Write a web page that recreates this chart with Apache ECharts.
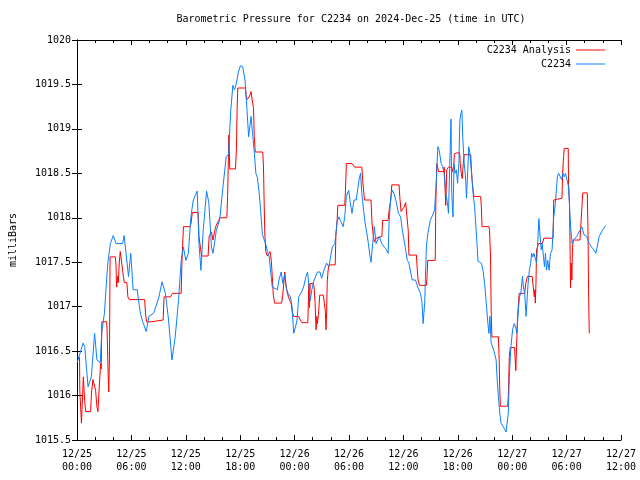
<!DOCTYPE html>
<html>
<head>
<meta charset="utf-8">
<script src="https://cdn.jsdelivr.net/npm/echarts@6/dist/echarts.min.js"></script>
<style>html,body{margin:0;padding:0;background:#fff}#c{width:640px;height:480px}</style>
</head>
<body>
<div id="c"></div>
<script>
// hours since 2024-12-25 00:00 UTC
const obsHours = [0.02,0.67,0.85,1.22,1.58,1.94,2.20,2.56,2.74,3.03,3.21,3.40,3.68,4.00,4.30,5.03,5.20,5.39,5.68,5.93,6.19,6.66,6.73,7.02,7.28,7.64,7.93,8.47,9.02,9.38,9.75,10.10,10.47,10.83,11.20,11.49,11.74,12.00,12.28,12.58,12.83,13.26,13.45,13.67,13.92,14.29,14.54,14.83,15.00,15.37,15.74,16.10,16.46,16.72,16.94,17.19,17.37,17.55,17.80,18.02,18.27,18.53,18.75,18.93,19.19,19.36,19.55,19.73,19.90,20.10,20.25,20.45,20.80,21.00,21.20,21.37,21.54,21.72,22.10,22.27,22.52,22.70,22.89,23.10,23.28,23.54,23.72,23.90,24.09,24.27,24.45,24.70,24.99,25.25,25.43,25.60,25.72,25.90,26.15,26.52,26.80,26.98,27.24,27.53,27.79,27.97,28.15,28.44,28.70,28.88,29.10,29.35,29.53,29.71,29.97,30.14,30.33,30.55,30.80,31.09,31.27,31.42,31.60,31.78,31.96,32.14,32.32,32.43,32.61,32.80,32.98,33.16,33.34,33.60,33.89,34.14,34.32,34.43,34.61,34.79,34.98,35.23,35.45,35.70,35.88,36.07,36.25,36.43,36.61,36.97,37.33,37.59,37.88,38.06,38.17,38.35,38.53,38.71,38.96,39.22,39.44,39.62,39.80,39.95,40.16,40.32,40.49,40.67,40.86,40.97,41.10,41.25,41.33,41.47,41.58,41.69,41.84,41.98,42.12,42.23,42.34,42.45,42.56,42.71,42.85,42.96,43.10,43.21,43.32,43.43,43.58,43.72,43.86,44.02,44.16,44.23,44.60,44.78,44.96,45.14,45.32,45.43,45.54,45.68,45.83,45.97,46.12,46.23,46.34,46.48,46.63,46.77,46.99,47.13,47.32,47.46,47.57,47.68,47.86,48.04,48.22,48.40,48.51,48.66,48.80,48.95,49.13,49.24,49.38,49.53,49.68,49.75,49.90,50.04,50.15,50.26,50.40,50.55,50.69,50.83,50.94,51.05,51.20,51.31,51.45,51.56,51.67,51.78,51.92,52.07,52.22,52.40,52.58,52.76,52.87,52.98,53.12,53.30,53.45,53.60,53.74,53.88,54.03,54.21,54.36,54.47,54.61,54.75,54.94,55.12,55.30,55.48,55.67,55.78,55.92,56.06,56.21,56.39,56.50,56.76,57.01,57.23,57.37,57.59,57.84,58.10,58.28];
const obsValues = [1016.37,1016.59,1016.55,1016.10,1016.21,1016.70,1016.40,1016.37,1016.72,1016.93,1017.22,1017.49,1017.71,1017.80,1017.71,1017.71,1017.80,1017.62,1017.34,1017.60,1017.19,1017.19,1017.11,1016.91,1016.82,1016.72,1016.89,1016.93,1017.10,1017.28,1017.15,1016.85,1016.40,1016.66,1017.07,1017.52,1017.67,1017.52,1017.60,1018.03,1018.20,1018.30,1017.71,1017.41,1017.86,1018.30,1018.17,1017.67,1017.60,1017.86,1017.98,1018.35,1018.69,1018.71,1019.18,1019.49,1019.44,1019.50,1019.64,1019.71,1019.70,1019.55,1019.21,1018.91,1019.14,1018.95,1018.74,1018.50,1018.45,1018.27,1018.09,1017.81,1017.71,1017.62,1017.56,1017.38,1017.22,1017.20,1017.19,1017.30,1017.39,1017.26,1017.36,1017.20,1017.15,1017.11,1017.00,1016.70,1016.77,1016.85,1017.11,1017.15,1017.22,1017.34,1017.39,1017.22,1017.07,1017.19,1017.30,1017.39,1017.39,1017.32,1017.41,1017.49,1017.45,1017.56,1017.67,1017.71,1017.96,1018.01,1017.96,1017.90,1018.01,1018.24,1018.31,1018.17,1018.05,1018.20,1018.20,1018.42,1018.50,1018.27,1018.09,1017.94,1017.83,1017.71,1017.56,1017.50,1017.71,1017.90,1017.71,1017.71,1017.79,1017.71,1017.67,1017.64,1017.60,1017.97,1018.24,1018.31,1018.27,1018.17,1018.05,1018.01,1017.86,1017.75,1017.64,1017.52,1017.49,1017.30,1017.30,1017.22,1017.15,1017.04,1016.81,1017.04,1017.67,1017.83,1017.97,1018.03,1018.09,1018.39,1018.80,1018.76,1018.61,1018.58,1018.50,1018.27,1018.17,1018.05,1018.54,1019.11,1018.27,1018.01,1018.61,1018.50,1018.54,1018.39,1018.61,1019.10,1019.17,1019.21,1018.87,1018.61,1018.46,1018.22,1018.54,1018.80,1018.73,1018.61,1018.42,1018.24,1018.12,1017.86,1017.64,1017.51,1017.49,1017.41,1017.26,1017.04,1016.81,1016.70,1016.89,1016.59,1016.60,1016.51,1016.51,1016.40,1016.18,1015.99,1015.80,1015.69,1015.69,1015.63,1015.59,1015.59,1015.80,1016.21,1016.55,1016.74,1016.81,1016.76,1016.70,1016.93,1017.11,1017.15,1017.34,1017.22,1017.15,1016.89,1016.89,1017.26,1017.41,1017.49,1017.60,1017.56,1017.60,1017.60,1017.49,1017.75,1017.99,1017.83,1017.64,1017.71,1017.56,1017.45,1017.60,1017.41,1017.52,1017.41,1017.60,1017.64,1018.01,1018.16,1018.31,1018.46,1018.50,1018.50,1018.43,1018.50,1018.46,1018.50,1018.50,1018.35,1018.05,1017.86,1017.71,1017.75,1017.77,1017.79,1017.79,1017.86,1017.90,1017.86,1017.81,1017.79,1017.79,1017.77,1017.71,1017.67,1017.64,1017.60,1017.67,1017.79,1017.84,1017.88,1017.91];

const anaHours = [0.00,0.28,0.31,0.40,0.49,0.55,0.70,0.85,0.96,1.50,1.60,1.76,1.97,2.05,2.20,2.31,2.49,2.60,2.67,2.74,3.28,3.35,3.43,3.50,3.58,3.65,4.23,4.30,4.37,4.48,4.55,4.66,4.77,4.96,5.03,5.21,5.50,5.61,5.75,7.46,7.57,7.68,8.22,8.30,9.50,9.60,10.29,10.54,11.49,11.57,11.74,12.47,12.58,12.72,13.37,13.45,13.74,14.46,14.57,14.83,15.00,15.20,15.37,15.63,15.74,16.53,16.61,16.75,16.85,17.48,17.58,17.66,17.73,18.57,18.66,18.75,18.90,19.04,19.19,19.37,19.47,19.55,19.66,20.49,20.57,20.64,20.71,20.82,21.00,21.18,21.29,21.43,21.54,21.65,21.80,22.56,22.67,22.81,22.92,23.03,23.17,23.32,23.47,23.61,23.76,23.90,24.45,24.63,24.81,25.46,25.57,25.64,25.72,26.08,26.15,26.26,26.37,26.44,26.52,26.66,26.77,27.17,27.28,27.39,27.46,27.53,27.60,27.70,27.79,28.48,28.55,28.70,28.77,29.53,29.60,29.71,30.33,30.44,30.62,31.42,31.53,31.64,31.71,32.43,32.54,32.69,32.80,32.98,33.16,33.63,33.70,34.32,34.43,34.61,34.72,35.52,35.60,35.74,35.88,36.07,36.25,36.47,36.53,36.61,37.44,37.51,37.62,37.77,38.53,38.60,38.68,39.51,39.58,39.69,39.88,40.42,40.50,40.62,40.67,40.78,40.97,41.33,41.40,41.55,41.62,41.90,42.20,42.27,42.38,42.49,42.60,42.71,43.43,43.50,43.58,43.68,43.79,44.52,44.60,44.67,45.43,45.50,45.61,45.68,45.76,46.48,46.56,46.63,46.70,47.50,47.57,47.68,47.79,48.26,48.33,48.40,48.48,48.59,48.77,49.38,49.49,49.60,49.68,50.20,50.33,50.44,50.51,50.55,50.62,50.69,50.83,50.91,51.33,51.38,51.49,52.51,52.58,52.69,53.49,53.56,53.67,53.74,54.18,54.21,54.32,54.39,54.43,54.51,54.58,54.65,54.75,55.48,55.56,55.70,55.78,56.28,56.36,56.43,56.50];
const anaValues = [1016.43,1016.43,1016.06,1016.06,1015.69,1015.84,1016.21,1015.93,1015.82,1015.82,1016.03,1016.18,1016.18,1016.06,1015.87,1015.82,1015.82,1016.36,1016.30,1016.83,1016.83,1016.63,1016.25,1016.04,1016.42,1017.56,1017.56,1017.47,1017.22,1017.34,1017.27,1017.49,1017.62,1017.62,1017.41,1017.27,1017.27,1017.11,1017.08,1017.08,1016.91,1016.83,1016.83,1016.85,1016.85,1017.11,1017.11,1017.15,1017.15,1017.49,1017.90,1017.90,1017.94,1018.06,1018.06,1017.79,1017.57,1017.57,1017.79,1017.84,1017.75,1017.86,1017.92,1017.97,1018.00,1018.00,1018.24,1018.93,1018.55,1018.55,1018.76,1019.22,1019.46,1019.46,1019.37,1019.33,1019.31,1019.37,1019.42,1019.42,1019.23,1018.91,1018.74,1018.74,1018.57,1018.18,1017.83,1017.62,1017.57,1017.57,1017.62,1017.52,1017.34,1017.13,1017.04,1017.04,1017.11,1017.26,1017.39,1017.26,1017.17,1017.11,1017.07,1017.04,1016.93,1016.89,1016.89,1016.85,1016.82,1016.82,1017.26,1016.99,1017.26,1017.26,1017.22,1017.04,1016.74,1016.89,1016.81,1016.95,1017.13,1017.13,1017.04,1016.95,1016.74,1016.93,1017.28,1017.41,1017.47,1017.47,1017.79,1017.99,1018.14,1018.14,1018.28,1018.61,1018.61,1018.60,1018.57,1018.57,1018.39,1018.28,1018.20,1018.20,1017.94,1017.79,1017.73,1017.77,1017.79,1017.79,1017.97,1017.97,1018.09,1018.20,1018.37,1018.37,1018.24,1018.07,1018.05,1018.12,1018.17,1018.17,1017.86,1017.58,1017.58,1017.45,1017.30,1017.24,1017.24,1017.32,1017.52,1017.52,1018.20,1018.61,1018.52,1018.52,1018.57,1018.57,1018.14,1018.54,1018.57,1018.57,1018.52,1018.57,1018.72,1018.73,1018.73,1018.61,1018.50,1018.44,1018.61,1018.71,1018.71,1018.54,1018.42,1018.31,1018.24,1018.24,1018.12,1017.90,1017.90,1017.86,1017.56,1016.96,1016.66,1016.66,1016.41,1016.06,1015.88,1015.88,1015.99,1016.44,1016.54,1016.54,1016.40,1016.28,1016.54,1016.89,1017.15,1017.15,1017.26,1017.26,1017.34,1017.34,1017.22,1017.11,1017.19,1017.04,1017.26,1017.64,1017.64,1017.71,1017.71,1017.73,1017.77,1017.77,1018.20,1018.22,1018.22,1018.50,1018.69,1018.78,1018.78,1018.39,1018.17,1017.60,1017.21,1017.49,1017.30,1017.67,1017.75,1017.75,1017.90,1018.14,1018.28,1018.28,1017.86,1017.11,1016.70];

const titleText = 'Barometric Pressure for C2234 on 2024-Dec-25 (time in UTC)';
const seriesNames = ['C2234 Analysis', 'C2234'];
const yLabel = 'milliBars';

const FONT = '"DejaVu Sans Mono", "Liberation Mono", monospace';
function pad(n){ return (n < 10 ? '0' : '') + n; }
function xFmt(v){
  const d = 25 + Math.floor(v / 24);
  const h = Math.round(v % 24);
  return '12/' + d + '\n' + pad(h) + ':00';
}
function yFmt(v){ return String(Math.round(v * 10) / 10); }
const zip = (a, b) => a.map((x, i) => [x, b[i]]);

const chart = echarts.init(document.getElementById('c'), null, {renderer: 'canvas'});
chart.setOption({
  animation: false,
  backgroundColor: '#fff',
  textStyle: {fontFamily: FONT, fontSize: 10, color: '#000'},
  title: {
    text: titleText, left: 346, top: 9, textAlign: 'center',
    textStyle: {fontFamily: FONT, fontSize: 10, fontWeight: 'normal', color: '#000'}
  },
  legend: [
    {data: [{name: seriesNames[0], icon: 'rect'}], right: 30, top: 40, orient: 'vertical', align: 'right',
     itemWidth: 29, itemHeight: 1, itemGap: 0, textStyle: {fontFamily: FONT, fontSize: 10, color: '#000'}},
    {data: [{name: seriesNames[1], icon: 'rect'}], right: 30, top: 54, orient: 'vertical', align: 'right',
     itemWidth: 29, itemHeight: 1, itemGap: 0, textStyle: {fontFamily: FONT, fontSize: 10, color: '#000'}}
  ],
  grid: {left: 70, top: 40, width: 551, height: 400, containLabel: false},
  xAxis: [
    {type: 'value', min: 0, max: 60, interval: 6, position: 'bottom',
     axisLine: {show: true, lineStyle: {color: '#000', width: 1}},
     axisTick: {show: true, inside: true, length: 5, lineStyle: {color: '#000'}},
     minorTick: {show: true, splitNumber: 3, length: 3, lineStyle: {color: '#000'}},
     splitLine: {show: false},
     axisLabel: {formatter: xFmt, margin: 8, lineHeight: 13, fontFamily: FONT, fontSize: 10, color: '#000'}},
    {type: 'value', min: 0, max: 60, interval: 6, position: 'top',
     axisLine: {show: true, lineStyle: {color: '#000', width: 1}},
     axisTick: {show: true, inside: true, length: 5, lineStyle: {color: '#000'}},
     minorTick: {show: true, splitNumber: 3, length: 3, lineStyle: {color: '#000'}},
     splitLine: {show: false}, axisLabel: {show: false}}
  ],
  yAxis: [
    {type: 'value', min: 1015.5, max: 1020, interval: 0.5, position: 'left',
     name: yLabel, nameLocation: 'middle', nameGap: 59, nameRotate: 90,
     nameTextStyle: {fontFamily: FONT, fontSize: 10, color: '#000'},
     axisLine: {show: true, lineStyle: {color: '#000', width: 1}},
     axisTick: {show: true, inside: true, length: 5, lineStyle: {color: '#000'}},
     splitLine: {show: false},
     axisLabel: {formatter: yFmt, margin: 6, fontFamily: FONT, fontSize: 10, color: '#000'}},
    {type: 'value', min: 1015.5, max: 1020, interval: 0.5, position: 'right',
     axisLine: {show: true, lineStyle: {color: '#000', width: 1}},
     axisTick: {show: true, inside: true, length: 5, lineStyle: {color: '#000'}},
     splitLine: {show: false}, axisLabel: {show: false}}
  ],
  series: [
    {name: seriesNames[0], type: 'line', xAxisIndex: 0, yAxisIndex: 0,
     data: zip(anaHours, anaValues), showSymbol: false, symbol: 'none',
     color: '#ff0000', lineStyle: {color: '#ff0000', width: 1}},
    {name: seriesNames[1], type: 'line', xAxisIndex: 0, yAxisIndex: 0,
     data: zip(obsHours, obsValues), showSymbol: false, symbol: 'none',
     color: '#0a80ff', lineStyle: {color: '#0a80ff', width: 1}}
  ]
});
</script>
</body>
</html>
